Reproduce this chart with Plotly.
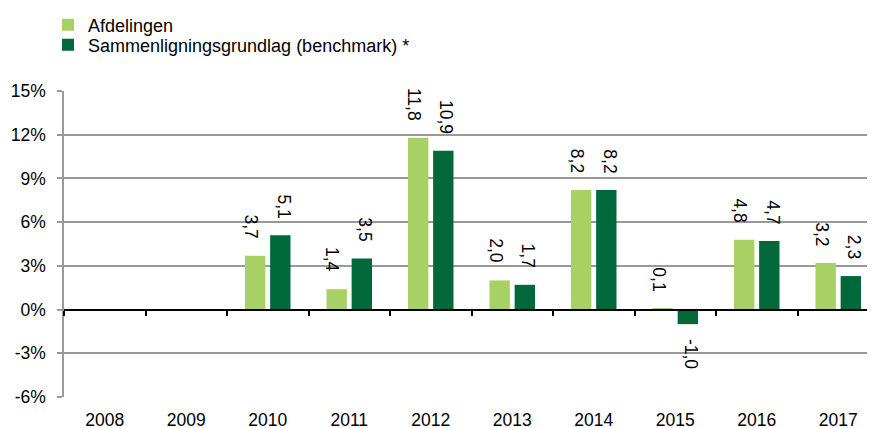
import plotly.graph_objects as go

years = ["2008", "2009", "2010", "2011", "2012", "2013", "2014", "2015", "2016", "2017"]
afdelingen = [None, None, 3.7, 1.4, 11.8, 2.0, 8.2, 0.1, 4.8, 3.2]
benchmark = [None, None, 5.1, 3.5, 10.9, 1.7, 8.2, -1.0, 4.7, 2.3]
series_names = ["Afdelingen", "Sammenligningsgrundlag (benchmark) *"]
series_colors = ["#A7D164", "#00683A"]
y_ticks = [-6, -3, 0, 3, 6, 9, 12, 15]

FONT = "Liberation Sans, Arial, sans-serif"
OFF = 8  # page body margin offset
W, H = 875 - OFF, 428 - OFF
M_L, M_R, M_T = 64 - OFF, 0, 91 - OFF
M_B = H - (397 - OFF)
ymin, ymax = -6, 15
PW, PH = W - M_L - M_R, H - M_T - M_B

fig = go.Figure()
legend_ids = ["legend", "legend2"]
for name, vals, col, lg in zip(series_names, [afdelingen, benchmark], series_colors, legend_ids):
    fig.add_trace(go.Bar(x=years, y=vals, name=name, legend=lg,
                         marker=dict(color=col, line=dict(width=0)), hoverinfo="skip"))

# invisible trace to carry the bottom category label axis
fig.add_trace(go.Scatter(x=years, y=[None] * len(years), xaxis="x2", yaxis="y",
                         mode="markers", showlegend=False, hoverinfo="skip"))

# data labels
label_shift = [-16.5, 16]
for k, vals in enumerate([afdelingen, benchmark]):
    for j, v in enumerate(vals):
        if v is None:
            continue
        fig.add_annotation(
            x=j, y=v, xref="x", yref="y",
            text=f"{v:.1f}".replace(".", ","),
            textangle=90, showarrow=False,
            xshift=label_shift[k],
            yanchor="bottom" if v >= 0 else "top",
            yshift=15 if v >= 0 else -13,
            font=dict(family=FONT, size=17.5, color="#000"),
        )

zero_pos = (0 - ymin) / (ymax - ymin)
cat_w = 81.5
right_end = -0.5 + PW / cat_w


def legend_cfg(row_center_px):
    yfig = row_center_px - OFF
    return dict(
        x=(48 - 64) / PW, y=1 + (M_T - yfig) / PH,
        xanchor="left", yanchor="middle",
        font=dict(family=FONT, size=18, color="#000"),
        itemwidth=30, bgcolor="rgba(0,0,0,0)", borderwidth=0,
    )


fig.update_layout(
    width=W, height=H,
    margin=dict(l=M_L, r=M_R, t=M_T, b=M_B, autoexpand=False),
    paper_bgcolor="white", plot_bgcolor="white",
    font=dict(family=FONT, size=17.5, color="#000"),
    barmode="group", bargap=0.383, bargroupgap=0.19,
    showlegend=True,
    legend=legend_cfg(25),
    legend2=legend_cfg(45),
    xaxis=dict(
        type="category", categoryorder="array", categoryarray=years,
        range=[-0.5, right_end],
        anchor="free", position=zero_pos,
        showline=True, linecolor="#000", linewidth=2,
        ticks="outside", tickson="boundaries", ticklen=5, tickwidth=2, tickcolor="#000",
        showticklabels=False, showgrid=False, zeroline=False, fixedrange=True,
    ),
    xaxis2=dict(
        type="category", categoryorder="array", categoryarray=years,
        range=[-0.5, right_end], overlaying="x", anchor="y", side="bottom",
        showline=False, ticks="", showticklabels=True, showgrid=False, zeroline=False,
        ticklabelstandoff=10, tickfont=dict(family=FONT, size=17.5, color="#000"),
    ),
    yaxis=dict(
        range=[ymin, ymax], tickvals=y_ticks,
        ticktext=[f"{t}%" for t in y_ticks],
        showline=True, linecolor="#999999", linewidth=1.5,
        ticks="outside", ticklen=5, tickwidth=1.5, tickcolor="#999999",
        showgrid=True, gridcolor="#999999", gridwidth=1.5,
        zeroline=False, ticklabelstandoff=8,
        tickfont=dict(family=FONT, size=17.5, color="#000"),
    ),
)

fig.write_html("out.html")
